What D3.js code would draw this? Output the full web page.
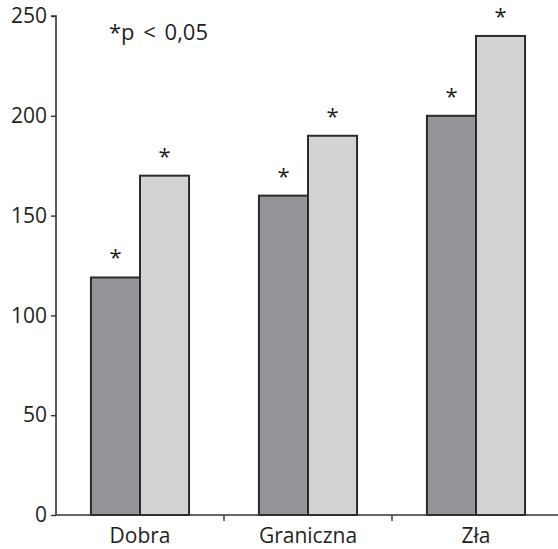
<!DOCTYPE html>
<html>
<head>
<meta charset="utf-8">
<script src="https://cdn.jsdelivr.net/npm/d3@7"></script>
<style>
  body { margin: 0; background: #fff; }
  text { font-family: "Open Sans", "Noto Sans", sans-serif; fill: #231f20; }
</style>
</head>
<body>
<svg id="chart" width="558" height="549"></svg>
<script>
// categories and the two series (dark / light bars)
var categories = ["Dobra", "Graniczna", "Zła"];
var seriesNames = ["dark", "light"];
var darkValues = [119, 160, 200];
var lightValues = [170, 190, 240];
var yTicks = [0, 50, 100, 150, 200, 250];
var note = "*p < 0,05";

var svg = d3.select("#chart");

var x = d3.scaleBand()
    .domain(categories)
    .range([56, 560]);

var bw = x.bandwidth();
var x1 = d3.scaleBand()
    .domain(seriesNames)
    .range([bw * 0.208, bw * 0.792]);

var y = d3.scaleLinear()
    .domain([0, 250])
    .range([515, 16]);

var colors = { dark: "#939598", light: "#d1d3d4" };

var rows = [];
categories.forEach(function (c, i) {
    rows.push({ cat: c, s: "dark", v: darkValues[i] });
    rows.push({ cat: c, s: "light", v: lightValues[i] });
});

// bars
svg.selectAll("rect.bar")
    .data(rows)
    .enter()
    .append("rect")
    .attr("class", "bar")
    .attr("x", function (d) { return x(d.cat) + x1(d.s); })
    .attr("y", function (d) { return y(d.v); })
    .attr("width", x1.bandwidth())
    .attr("height", function (d) { return y(0) - y(d.v); })
    .attr("fill", function (d) { return colors[d.s]; })
    .attr("stroke", "#2b2b2b")
    .attr("stroke-width", 2);

// asterisks
svg.selectAll("text.star")
    .data(rows)
    .enter()
    .append("text")
    .attr("class", "star")
    .attr("x", function (d) { return x(d.cat) + x1(d.s) + x1.bandwidth() / 2; })
    .attr("y", function (d) { return y(d.v) - 12; })
    .attr("text-anchor", "middle")
    .style("font-size", "22px")
    .text("*");

// y axis
var yAxis = d3.axisLeft(y).tickValues(yTicks).tickSize(5).tickPadding(4);
var gy = svg.append("g")
    .attr("transform", "translate(56,0)")
    .call(yAxis);
gy.select(".domain").attr("stroke", "#333").attr("stroke-width", 1.6).attr("d", "M-5,16H0V515");
gy.selectAll(".tick line").attr("stroke", "#333").attr("stroke-width", 1.4);
gy.selectAll(".tick text").style("font-size", "21px").attr("fill", "#231f20");

// x axis
var xAxis = d3.axisBottom(x).tickSize(0).tickPadding(13);
var gx = svg.append("g")
    .attr("transform", "translate(0,515)")
    .call(xAxis);
gx.select(".domain").attr("stroke", "#333").attr("stroke-width", 1.6).attr("d", "M56,0H560");
gx.selectAll(".tick text").style("font-size", "21px").attr("fill", "#231f20");

// ticks between the categories
gx.selectAll("line.sep")
    .data(categories.slice(0, -1))
    .enter()
    .append("line")
    .attr("class", "sep")
    .attr("x1", function (d) { return x(d) + bw; })
    .attr("x2", function (d) { return x(d) + bw; })
    .attr("y1", 0)
    .attr("y2", 6)
    .attr("stroke", "#333")
    .attr("stroke-width", 1.4);

// significance note
svg.append("text")
    .attr("x", 109)
    .attr("y", 40)
    .style("font-size", "22px")
    .style("word-spacing", "3px")
    .text(note);
</script>
</body>
</html>
